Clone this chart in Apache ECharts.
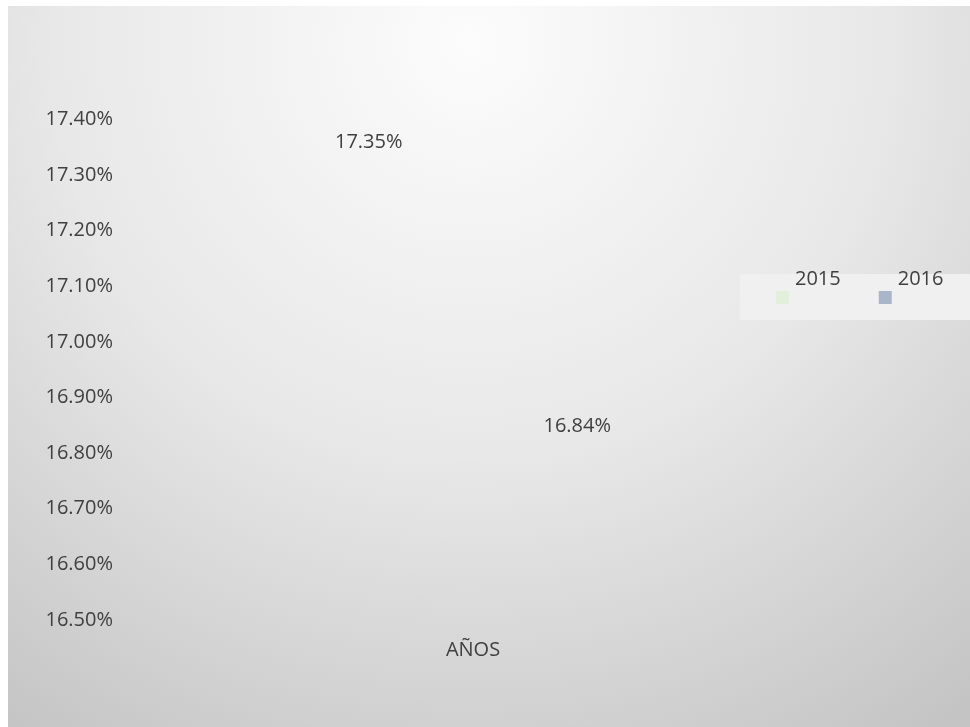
<!DOCTYPE html>
<html>
<head>
<meta charset="utf-8">
<script src="https://cdn.jsdelivr.net/npm/echarts@6/dist/echarts.min.js"></script>
<style>
html,body{margin:0;padding:0;background:#ffffff;}
#chart{position:absolute;left:8px;top:6px;width:962px;height:721px;}
</style>
</head>
<body>
<div id="chart"></div>
<script>
const categories = ['AÑOS'];
const seriesNames = ['2015', '2016'];
const values2015 = [17.35];
const values2016 = [16.84];
const seriesColors = ['#e2efda', '#a9b5c8'];
const yMin = 16.5, yMax = 17.4, yStep = 0.1;

const chart = echarts.init(document.getElementById('chart'));
const font = '"Open Sans", "Noto Sans", sans-serif';
const pct = v => Number(v).toFixed(2) + '%';

const makeSeries = (name, data) => ({
  name: name,
  type: 'bar',
  data: data,
  barWidth: 150,
  barGap: '39%',
  itemStyle: { color: 'rgba(255,255,255,0)' },
  label: {
    show: true, position: 'top', distance: -5,
    formatter: p => pct(p.value),
    color: '#404040', fontFamily: font, fontSize: 20, opacity: 1
  },
  emphasis: { disabled: true }
});

chart.setOption({
  animation: false,
  backgroundColor: {
    type: 'radial', x: 0.48, y: 0.05, r: 1.15,
    colorStops: [
      { offset: 0, color: '#fcfcfc' },
      { offset: 0.5, color: '#e8e8e8' },
      { offset: 1, color: '#c4c4c4' }
    ]
  },
  graphic: [{
    type: 'rect', z: 0, silent: true,
    shape: { x: 732, y: 268, width: 230, height: 46 },
    style: { fill: '#f0f0f0' }
  }],
  legend: {
    left: 768, top: 263, padding: 0,
    itemWidth: 13, itemHeight: 13, itemGap: 38,
    icon: 'rect',
    data: seriesNames.map((n, i) => ({ name: n, itemStyle: { color: seriesColors[i], opacity: 1 } })),
    formatter: '{a|{name}}',
    textStyle: {
      color: '#404040', fontFamily: font, fontSize: 20,
      rich: { a: { color: '#404040', fontFamily: font, fontSize: 20, padding: [0, 0, 37, 1] } }
    }
  },
  grid: { left: 113, right: 145, top: 113.5, bottom: 107, containLabel: false },
  xAxis: {
    type: 'category', data: categories,
    axisLine: { show: false }, axisTick: { show: false },
    axisLabel: { color: '#404040', fontFamily: font, fontSize: 20, margin: 20 }
  },
  yAxis: {
    type: 'value', min: yMin, max: yMax, interval: yStep,
    axisLine: { show: false }, axisTick: { show: false }, splitLine: { show: false },
    axisLabel: { color: '#404040', fontFamily: font, fontSize: 20, margin: 8, formatter: v => pct(v) }
  },
  series: [
    makeSeries(seriesNames[0], values2015),
    makeSeries(seriesNames[1], values2016)
  ]
});
</script>
</body>
</html>
